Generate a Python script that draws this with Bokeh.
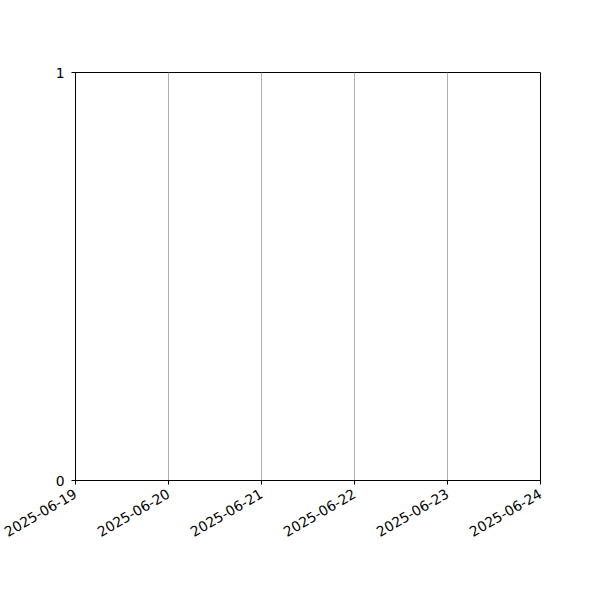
import math
from datetime import datetime
from bokeh.plotting import figure
from bokeh.models import FixedTicker, DatetimeTickFormatter, Range1d
from bokeh.embed import file_html
from bokeh.resources import INLINE

# tick dates and y range of the empty chart
dates = ["2025-06-19", "2025-06-20", "2025-06-21", "2025-06-22", "2025-06-23", "2025-06-24"]
y_ticks = [0, 1]

def to_ms(s):
    return (datetime.strptime(s, "%Y-%m-%d") - datetime(1970, 1, 1)).total_seconds() * 1000

date_ms = [to_ms(d) for d in dates]

p = figure(width=592, height=592, x_axis_type="datetime",
           x_range=Range1d(date_ms[0], date_ms[-1]),
           y_range=Range1d(y_ticks[0], y_ticks[-1]),
           output_backend="svg", toolbar_location=None,
           min_border_left=75, min_border_right=52,
           min_border_top=72, min_border_bottom=112)

p.xaxis.ticker = FixedTicker(ticks=date_ms)
p.xaxis.formatter = DatetimeTickFormatter(days="%Y-%m-%d", months="%Y-%m-%d", hours="%Y-%m-%d")
p.xaxis.major_label_orientation = math.pi / 6
p.yaxis.ticker = FixedTicker(ticks=y_ticks)

for ax in [p.xaxis, p.yaxis]:
    ax.major_tick_in = 0
    ax.major_tick_out = 4
    ax.minor_tick_line_color = None
    ax.axis_line_color = "black"
    ax.major_tick_line_color = "black"
    ax.major_label_text_font = "DejaVu Sans"
    ax.major_label_text_font_size = "13.9px"
    ax.major_label_text_color = "black"

p.xaxis.major_label_standoff = 8
p.yaxis.major_label_standoff = 7

p.xgrid.grid_line_color = "#b0b0b0"
p.xgrid.grid_line_width = 1
p.ygrid.grid_line_color = None
p.outline_line_color = "black"
p.outline_line_alpha = 1
p.outline_line_width = 1

open("out.html", "w").write(file_html(p, INLINE))
